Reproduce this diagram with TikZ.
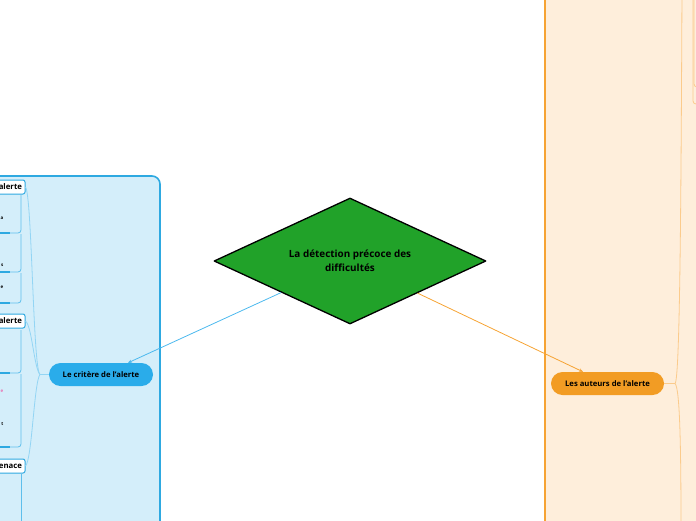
\documentclass[tikz,border=0pt]{standalone}
\usepackage{fontspec}
\setmainfont{Open Sans}
\usetikzlibrary{shapes.geometric,arrows.meta}

\definecolor{panelblue}{HTML}{D4EEFA}
\definecolor{edgeblue}{HTML}{2EA9E1}
\definecolor{nodeblue}{HTML}{2AACEA}
\definecolor{linkblue}{HTML}{4CB9EE}
\definecolor{twigblue}{HTML}{93D5F4}
\definecolor{itemblue}{HTML}{5EBFEC}
\definecolor{panelorange}{HTML}{FEEEDB}
\definecolor{edgeorange}{HTML}{F6A333}
\definecolor{nodeorange}{HTML}{F29C24}
\definecolor{twigorange}{HTML}{FBCB8C}
\definecolor{topicgreen}{HTML}{21A229}
\definecolor{fragpink}{HTML}{E970B2}

\tikzset{
  topic/.style={diamond,shape aspect=2.16,draw=black,line width=1.3pt,fill=topicgreen,
    minimum width=272pt,minimum height=126pt,inner sep=0pt,align=center,
    font=\fontsize{9.9}{14}\selectfont\bfseries},
  branch/.style={rounded corners=11.5pt,minimum height=23pt,inner sep=0pt,
    font=\fontsize{7.7}{9}\selectfont\bfseries},
  subtopic/.style={draw=edgeblue,fill=white,line width=1pt,rounded corners=2pt,
    minimum height=14pt,text width=60pt,align=right,inner xsep=3pt,inner ysep=0pt,
    font=\fontsize{7.8}{9}\selectfont\bfseries},
  frag/.style={inner sep=0pt,anchor=east,font=\fontsize{4.5}{5}\selectfont\bfseries},
  item/.style={draw=itemblue,line width=.8pt,rounded corners=3pt},
  underline/.style={draw=edgeblue,line width=1.4pt},
  twig/.style={draw=twigblue,line width=.8pt},
}

\begin{document}
\begin{tikzpicture}[x=1pt,y=-1pt,join=round] % Mind map seen through the frame
        \useasboundingbox (0,0) rectangle (696,520);
        \clip (0,0) rectangle (696,520);
        % panels
        \filldraw[fill=panelblue,draw=edgeblue,line width=1.6pt,rounded corners=8pt](-20,176)--(160,176)--(160,540)--(-20,540)--cycle;
        \filldraw[fill=panelorange,draw=edgeorange,line width=1.6pt](720,-20)--(545,-20)--(545,540)--(720,540);
        % items under the left subtopics
        \draw[item](21,195)--(21,233)--(-30,233);
        \draw[item](21,234)--(21,272)--(-30,272);
        \draw[item](21,273)--(21,303)--(-30,303);
        \draw[item](21,330)--(21,373)--(-30,373);
        \draw[item](21,374)--(21,447)--(-30,447);
        \draw[item](21,474)--(21,540);
        \draw[underline](-30,233)--(10,233);
        \draw[underline](-30,272)--(10,272);
        \draw[underline](-30,303)--(10,303);
        \draw[underline](-30,373)--(10,373);
        \draw[underline](-30,447)--(10,447);
        % items on the far right
        \draw[twigorange,line width=.8pt,rounded corners=3pt](693,-10)--(693,104)--(720,104);
        \draw[twigorange,line width=.8pt,rounded corners=3pt](694,-10)--(694,87)--(720,87);
        % nodes
        \node[topic] (topic) at (350,261) {La détection précoce des\\difficultés};
        \node[branch,fill=nodeblue,minimum width=104pt] (critere) at (101,374.5) {Le critère de l'alerte};
        \node[branch,fill=nodeorange,minimum width=113pt] (auteurs) at (607.5,383.5) {Les auteurs de l'alerte};
        \node[subtopic,anchor=east] (sub1) at (25.5,187) {alerte};
        \node[subtopic,anchor=east] (sub2) at (25.5,321) {alerte};
        \node[subtopic,anchor=east] (sub3) at (25.5,466) {enace};
        \coordinate (upper) at (682,-10);
        \coordinate (lower) at (681,530);
        % text fragments at the edge
        \node[frag] at (3.5,218) {a};
        \node[frag] at (3.5,265) {s};
        \node[frag] at (3.5,287) {e};
        \node[frag,text=fragpink] at (3.5,391) {e};
        \node[frag] at (3.5,424) {t};
        % connectors
        \draw[linkblue,line width=.8pt,-{Stealth[length=4pt,width=3.4pt]}](topic)--([xshift=27pt]critere.north);
        \draw[edgeorange,line width=.8pt,-{Stealth[length=4pt,width=3.4pt]}](topic)--([xshift=-24.5pt]auteurs.north);
        \draw[twig](critere.west)--(40,374.5) .. controls (33,370) and (32,195) .. (sub1.east);
        \draw[twig](40,374.5) .. controls (34,368) and (32,326) .. (sub2.east);
        \draw[twig](40,374.5) .. controls (34,382) and (32,460) .. (sub3.east);
        \draw[twigorange,line width=.8pt](auteurs.east)--(675,383.5) .. controls (680,380) and (681,200) .. (upper);
        \draw[twigorange,line width=.8pt](675,383.5) .. controls (680,388) and (681,450) .. (lower);
\end{tikzpicture}
\end{document}
